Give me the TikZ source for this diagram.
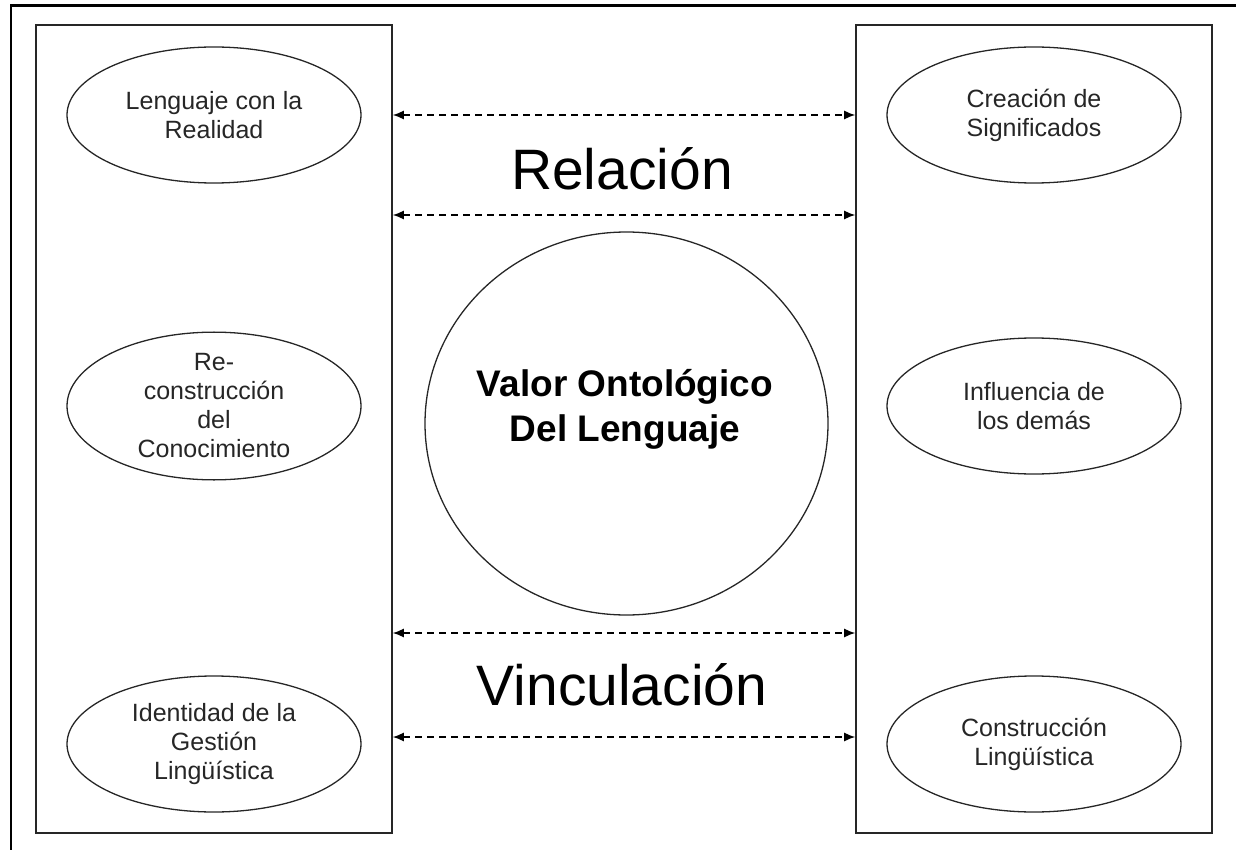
\documentclass[tikz,border=0pt]{standalone}
\usepackage{fontspec}
\setmainfont{Liberation Sans}
\usetikzlibrary{shapes.geometric,arrows.meta}
\begin{document}
\begin{tikzpicture}[x=1pt,y=-1pt,
  outerframe/.style={draw=black,line width=2.6pt},
  boxframe/.style={rectangle,draw=black!85,line width=1.6pt,minimum width=356pt,minimum height=808pt,inner sep=0pt},
  oval/.style={ellipse,draw=black!85,line width=1.3pt,minimum width=294pt,minimum height=136pt,inner sep=0pt,align=center,font=\fontsize{25}{29}\selectfont,text=black!85},
  bigcircle/.style={ellipse,draw=black!85,line width=1.3pt,minimum width=403pt,minimum height=383pt,inner sep=0pt},
  centertext/.style={align=center,inner sep=0pt,font=\bfseries\fontsize{37}{45}\selectfont},
  bigword/.style={inner sep=0pt,font=\fontsize{57}{60}\selectfont},
  conn/.style={line width=1.4pt,dash pattern=on 7pt off 5pt,arrows={Latex[length=11pt,width=9pt]-Latex[length=11pt,width=9pt]}}
]
\useasboundingbox (0,0) rectangle (1236,850);
\clip (0,0) rectangle (1236,850);
\draw[outerframe] (11,5.5) rectangle (1300,900);

\node[boxframe] (L) at (214,429) {};
\node[boxframe] (R) at (1034,429) {};

\node[oval] (l1) at (214,115) {Lenguaje con la\\Realidad};
\node[oval] (l2) at (214,406) {Re-\\construcción\\del\\Conocimiento};
\node[oval] (l3) at (214,744) {Identidad de la\\Gestión\\Lingüística};
\node[oval] (r1) at (1034,115) {Creación de\\Significados};
\node[oval] (r2) at (1034,406) {Influencia de\\los demás};
\node[oval] (r3) at (1034,744) {Construcción\\Lingüística};

\node[bigcircle] (circ) at (626.5,423.5) {};
\node[centertext] (ctext) at (625,409) {Valor Ontológico\\Del Lenguaje};

\node[bigword,anchor=base] (rel) at (622,190) {Relación};
\node[bigword,anchor=base] (vinc) at (622,705) {Vinculación};

\coordinate (y1) at (0,115);
\coordinate (y2) at (0,215);
\coordinate (y3) at (0,633);
\coordinate (y4) at (0,737);
\draw[conn] (L.east |- y1) -- (R.west |- y1);
\draw[conn] (L.east |- y2) -- (R.west |- y2);
\draw[conn] (L.east |- y3) -- (R.west |- y3);
\draw[conn] (L.east |- y4) -- (R.west |- y4);
\end{tikzpicture}
\end{document}
